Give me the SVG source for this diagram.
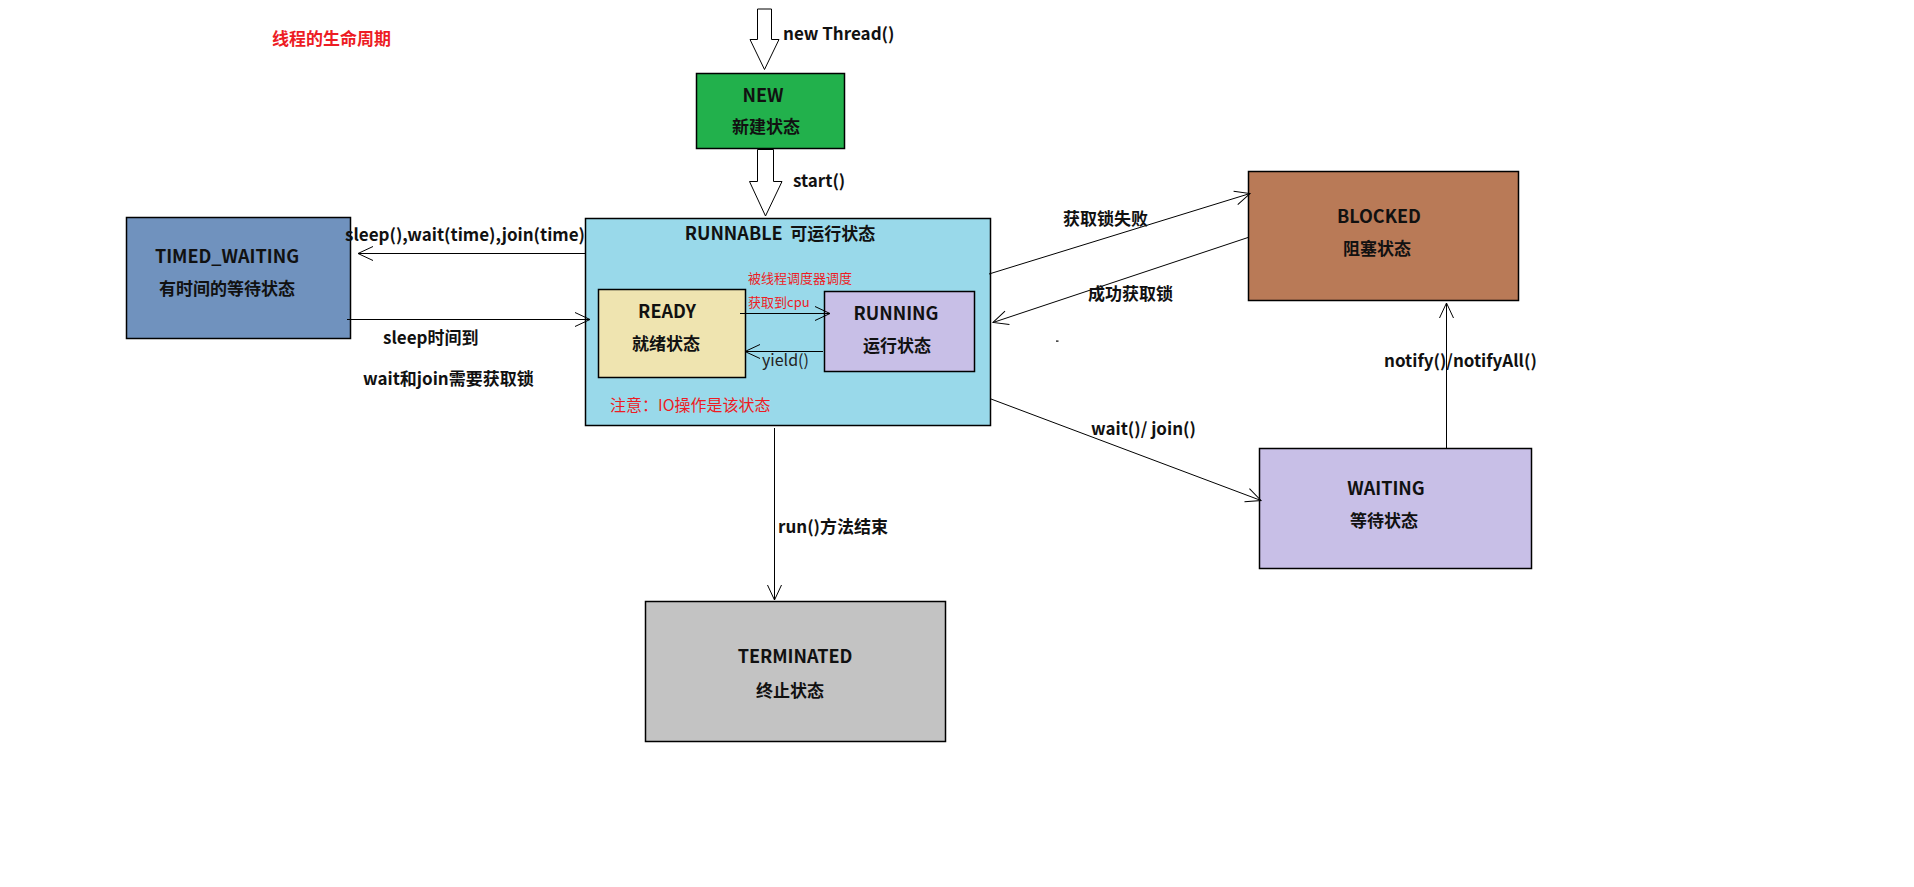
<svg xmlns="http://www.w3.org/2000/svg" width="1914" height="887" viewBox="0 0 1914 887">
<defs>
<marker id="ah" markerUnits="userSpaceOnUse" markerWidth="18" markerHeight="18" refX="16" refY="8" orient="auto">
<path d="M1,1 L16,8 L1,15" fill="none" stroke="#000" stroke-width="1"/>
</marker>
<style>
.box{stroke:#000;stroke-width:1.5}
.t{font-family:"Noto Sans CJK SC","Microsoft YaHei",sans-serif;font-weight:bold;font-size:17px;fill:#111}
.h{font-size:18px}
.c{text-anchor:middle}
.red{font-family:"Noto Sans CJK SC",sans-serif;fill:#ED1C24}
.n{font-family:"Noto Sans CJK SC",sans-serif;font-size:16px;fill:#222}
.ln{stroke:#000;stroke-width:1;fill:none}
.blk{fill:#fff;stroke:#000;stroke-width:1}
</style>
</defs>
<rect width="1914" height="887" fill="#fff"/>
<text class="t" x="272" y="45" style="fill:#ED1C24">线程的生命周期</text>

<g id="new">
<rect class="box" x="696.5" y="73.5" width="148" height="75" fill="#22B14C"/>
<text class="t h c" x="763" y="102">NEW</text>
<text class="t c" x="766" y="133">新建状态</text>
</g>

<g id="runnable">
<rect class="box" x="585.5" y="218.5" width="405" height="207" fill="#99D9EA"/>
<text class="t c" x="780" y="240" xml:space="preserve"><tspan class="h">RUNNABLE</tspan>  可运行状态</text>
<text class="red" x="610" y="411" font-size="16">注意：IO操作是该状态</text>
</g>

<g id="ready">
<rect class="box" x="598.5" y="289.5" width="147" height="88" fill="#EFE4B0"/>
<text class="t h c" x="667" y="318">READY</text>
<text class="t c" x="666" y="350">就绪状态</text>
</g>

<g id="running">
<rect class="box" x="824.5" y="291.5" width="150" height="80" fill="#C8BFE7"/>
<text class="t h c" x="896" y="320">RUNNING</text>
<text class="t c" x="897" y="352">运行状态</text>
</g>

<g id="timed_waiting">
<rect class="box" x="126.5" y="217.5" width="224" height="121" fill="#7092BE"/>
<text class="t h c" x="227" y="263">TIMED_WAITING</text>
<text class="t c" x="227" y="295">有时间的等待状态</text>
</g>

<g id="blocked">
<rect class="box" x="1248.5" y="171.5" width="270" height="129" fill="#B97A57"/>
<text class="t h c" x="1379" y="223">BLOCKED</text>
<text class="t c" x="1377" y="255">阻塞状态</text>
</g>

<g id="waiting">
<rect class="box" x="1259.5" y="448.5" width="272" height="120" fill="#C8BFE7"/>
<text class="t h c" x="1386" y="495">WAITING</text>
<text class="t c" x="1384" y="527">等待状态</text>
</g>

<g id="terminated">
<rect class="box" x="645.5" y="601.5" width="300" height="140" fill="#C3C3C3"/>
<text class="t h c" x="795" y="663">TERMINATED</text>
<text class="t c" x="790" y="697">终止状态</text>
</g>

<g id="connectors">
<polygon class="blk" points="757.5,9 771.5,9 771.5,39.5 779,39.5 764.5,69.5 750,39.5 757.5,39.5"/>
<polygon class="blk" points="757.5,149.5 773.5,149.5 773.5,181.5 782,181.5 765.5,216 749.5,181.5 757.5,181.5"/>
<line class="ln" x1="585" y1="253.5" x2="358" y2="253.5" marker-end="url(#ah)"/>
<line class="ln" x1="347" y1="319.5" x2="590" y2="319.5" marker-end="url(#ah)"/>
<line class="ln" x1="740" y1="313.5" x2="830" y2="313.5" marker-end="url(#ah)"/>
<line class="ln" x1="823" y1="351.5" x2="745" y2="351.5" marker-end="url(#ah)"/>
<line class="ln" x1="989" y1="274" x2="1250" y2="193.5" marker-end="url(#ah)"/>
<line class="ln" x1="1248" y1="237.5" x2="993" y2="322.5" marker-end="url(#ah)"/>
<line class="ln" x1="991" y1="399" x2="1261" y2="500.5" marker-end="url(#ah)"/>
<line class="ln" x1="1446.5" y1="448" x2="1446.5" y2="303" marker-end="url(#ah)"/>
<line class="ln" x1="774.5" y1="428" x2="774.5" y2="600" marker-end="url(#ah)"/>
<rect x="1056" y="340.5" width="2.5" height="1.2" fill="#000"/>
<text class="t" x="783" y="40">new Thread()</text>
<text class="t" x="793" y="187">start()</text>
<text class="t" x="345" y="241">sleep(),wait(time),join(time)</text>
<text class="t" x="383" y="344">sleep时间到</text>
<text class="t" x="363" y="385">wait和join需要获取锁</text>
<text class="red" x="748" y="283" font-size="13">被线程调度器调度</text>
<text class="red" x="748" y="307" font-size="13">获取到cpu</text>
<text class="n" x="762" y="366">yield()</text>
<text class="t" x="1063" y="225">获取锁失败</text>
<text class="t" x="1088" y="300">成功获取锁</text>
<text class="t" x="1091" y="435">wait()/ join()</text>
<text class="t" x="1384" y="367">notify()/notifyAll()</text>
<text class="t" x="778" y="533">run()方法结束</text>
</g>
</svg>
